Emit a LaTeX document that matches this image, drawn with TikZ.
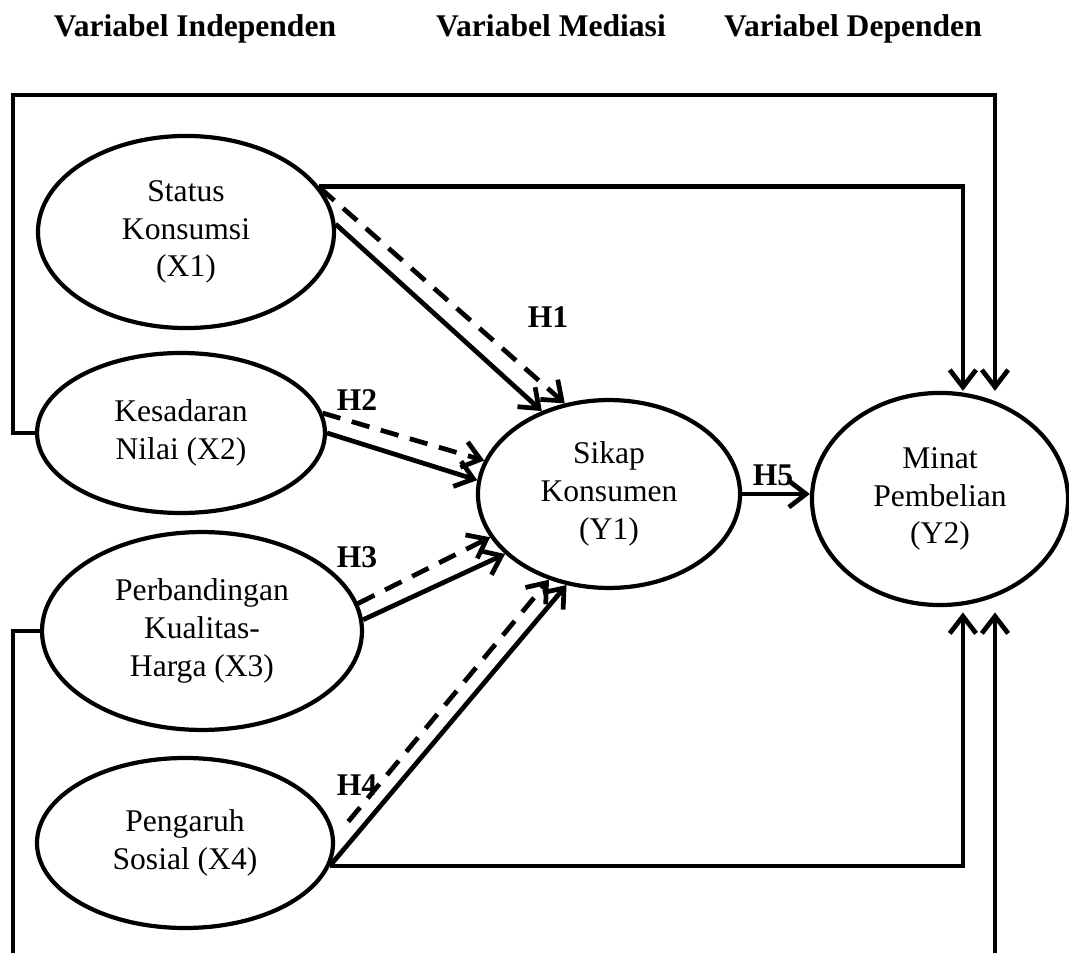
\documentclass[tikz,border=0pt]{standalone}
\usepackage{fontspec}
\setmainfont{Liberation Serif}
\usetikzlibrary{shapes.geometric,arrows.meta}
\begin{document}
\begin{tikzpicture}[x=0.38pt, y=-0.38pt, >={Straight Barb[length=6.5pt,width=10pt]}, line width=1.8pt,
	every node/.style={font=\fontsize{12}{14.4}\selectfont},
	var/.style={ellipse, draw, line width=1.6pt, inner sep=0pt, align=center},
	hyp/.style={font=\fontsize{12}{14.4}\selectfont\bfseries},
	dashln/.style={dash pattern=on 7pt off 4.5pt}]
	\useasboundingbox (0,0) rectangle (1069,953);
	
	% judul kolom
	\node[hyp, anchor=base] (hInd) at (195,37) {Variabel Independen};
	\node[hyp, anchor=base] (hMed) at (551,37) {Variabel Mediasi};
	\node[hyp, anchor=base] (hDep) at (853,37) {Variabel Dependen};
	
	% variabel
	\node[var, minimum width=112.5pt, minimum height=73pt] (stat) at (186,232) {Status\\Konsumsi\\(X1)};
	\node[var, minimum width=109.4pt, minimum height=60.8pt] (kes) at (181,433) {Kesadaran\\Nilai (X2)};
	\node[var, minimum width=121.6pt, minimum height=75.2pt] (perb) at (202,631) {Perbandingan\\Kualitas-\\Harga (X3)};
	\node[var, minimum width=112.5pt, minimum height=64.6pt] (peng) at (185,843) {Pengaruh\\Sosial (X4)};
	\node[var, minimum width=99.6pt, minimum height=71.4pt] (sikap) at (609,494) {Sikap\\Konsumen\\(Y1)};
	\node[var, minimum width=97.3pt, minimum height=80.6pt] (minat) at (940,499) {Minat\\Pembelian\\(Y2)};
	
	% titik bantu
	\coordinate (tl) at (13,95);
	\coordinate (bl) at (13,953);
	\coordinate (br) at (995,953);
	\coordinate (inA) at ([xshift=8.7pt]minat.north);
	\coordinate (inB) at ([xshift=20.9pt]minat.north);
	\coordinate (outA) at ([xshift=8.7pt, yshift=-2pt]minat.south);
	
	% X -> Y1
	\draw[->, dashln] (stat.18) -- (sikap.116);
	\draw[->] (stat.3) -- (sikap.129);
	\draw[->, dashln] (kes.8) -- (sikap.165);
	\draw[->] (kes.east) -- (sikap.174);
	\draw[->, dashln] (perb.10) -- (sikap.200);
	\draw[->] (perb.4) -- (sikap.210);
	\draw[->, dashln, shorten <=8pt] (peng.2) -- (sikap.235);
	\draw[->] (peng.351) -- (sikap.245);
	\draw[->] (sikap.east) -- (sikap.east -| minat.west);
	
	% X -> Y2
	\draw[->] (kes.west) -| (tl) -| (inB);
	\draw[->] (stat.19) -| (inA);
	\draw (perb.west) -| (bl);
	\draw[->] (peng.351) -| (outA);
	\draw[->] (br) -- (br |- outA);
	
	% hipotesis
	\node[hyp] (h1) at (548,317) {H1};
	\node[hyp] (h2) at (357,400) {H2};
	\node[hyp] (h3) at (357,557) {H3};
	\node[hyp] (h4) at (357,785) {H4};
	\node[hyp] (h5) at (773,475) {H5};
\end{tikzpicture}
\end{document}
